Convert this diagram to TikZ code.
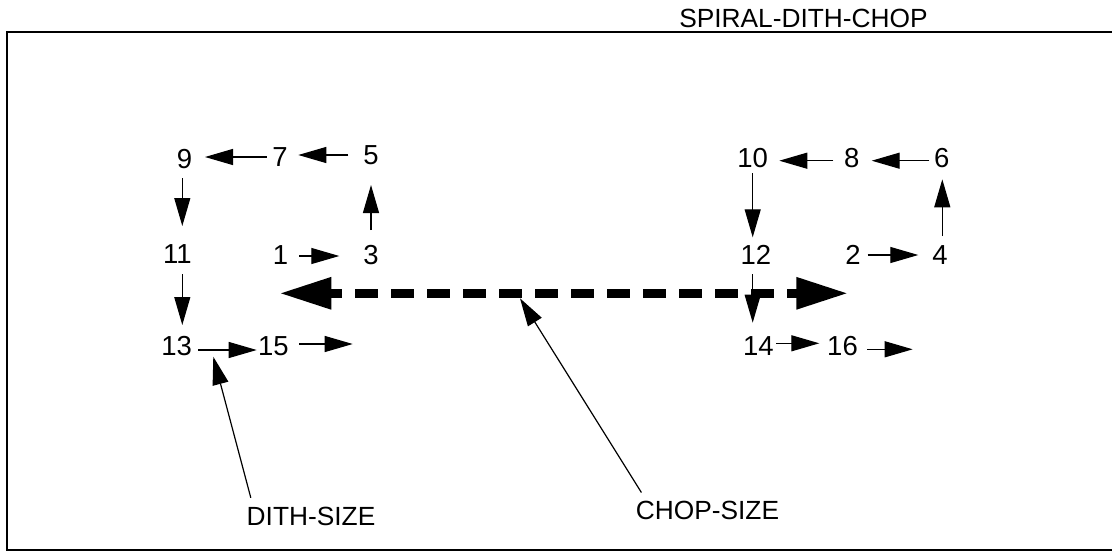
\documentclass[tikz,border=0pt]{standalone}
\usepackage{fontspec}
\setmainfont{Liberation Sans}
\usepackage{tikz}
\usetikzlibrary{arrows.meta}
\tikzset{
	step label/.style = {inner sep=0pt, font=\fontsize{27.5}{31}\selectfont},
	title label/.style = {inner sep=0pt, font=\fontsize{26.3}{30}\selectfont},
	size label/.style = {inner sep=8.7pt, font=\fontsize{26.3}{30}\selectfont},
	step arrow/.style = {line width=1.2pt, -{Triangle[length=28pt,width=16pt]}},
	chop arrow/.style = {line width=9pt, dash pattern=on 22.7pt off 13.3pt, dash phase=10pt,
		{Triangle[length=52pt,width=30pt]}-{Triangle[length=52pt,width=30pt]}},
	frame line/.style = {line width=1.2pt}
}

\begin{document}
\begin{tikzpicture}[x=1pt, y=-1pt]
		\useasboundingbox (0,0) rectangle (1112,552);
		\draw[frame line] (1112,32) -| (7,550) -- (1112,550);
		\node[title label] (title) at (803.5,18.5) {SPIRAL-DITH-CHOP};
	
		\node[step label] (n9) at (184.5,159.5) {9};
		\node[step label] (n7) at (280,157) {7};
		\node[step label] (n5) at (371,155) {5};
		\node[step label] (n11) at (177.5,254) {11};
		\node[step label] (n1) at (280.5,255) {1};
		\node[step label] (n3) at (371,255) {3};
		\node[step label] (n13) at (176.7,345.7) {13};
		\node[step label] (n15) at (273.3,345.7) {15};
		\coordinate (e15) at (352.7,344);
		\draw[step arrow, shorten <=13.3pt, shorten >=20.5pt] (n7.center) -- (n7.center -| n9.center);
		\draw[step arrow, shorten <=22.7pt, shorten >=18.3pt] (n5.center) -- (n5.center -| n7.center);
		\draw[step arrow, shorten <=18.8pt, shorten >=28pt] ([xshift=-2.2pt]n9.center) -- ([xshift=-2.2pt]n9.center |- n11.center);
		\draw[step arrow, shorten <=20pt, shorten >=20.7pt] ([xshift=4.8pt]n11.center) -- ([xshift=4.8pt]n11.center |- n13.center);
		\draw[step arrow, shorten <=25pt, shorten >=30pt] (n3.center) -- (n3.center |- n5.center);
		\draw[step arrow, shorten <=18.8pt, shorten >=31.7pt] ([yshift=-1pt]n1.center) -- ([yshift=-1pt]n1.center -| n3.center);
		\draw[step arrow, shorten <=21.6pt, shorten >=16.6pt] ([yshift=-4.3pt]n13.center) -- ([yshift=-4.3pt]n13.center -| n15.center);
		\draw[step arrow, shorten <=26pt] (n15.center |- e15) -- (e15);
	
		\node[step label] (n10) at (752.7,158) {10};
		\node[step label] (n8) at (851.7,158) {8};
		\node[step label] (n6) at (941.7,158) {6};
		\node[step label] (n12) at (755.8,255) {12};
		\node[step label] (n2) at (853,255) {2};
		\node[step label] (n4) at (940,255) {4};
		\node[step label] (n14) at (758.3,346) {14};
		\node[step label] (n16) at (842.5,346) {16};
		\coordinate (e16) at (912.7,349.3);
		\draw[step arrow, shorten <=18.4pt, shorten >=26.6pt] ([yshift=-2.7pt]n8.center) -- ([yshift=-2.7pt]n8.center -| n10.center);
		\draw[step arrow, shorten <=12.4pt, shorten >=20pt] ([yshift=-2.7pt]n6.center) -- ([yshift=-2.7pt]n6.center -| n8.center);
		\draw[step arrow, shorten <=15.3pt, shorten >=17.7pt] (n10.center) -- (n10.center |- n12.center);
		\draw[step arrow, shorten <=19pt, shorten >=23.3pt] ([xshift=-3.1pt]n12.center) -- ([xshift=-3.1pt]n12.center |- n14.center);
		\draw[step arrow, shorten <=19pt, shorten >=21.3pt] ([xshift=2.3pt]n4.center) -- ([xshift=2.3pt]n4.center |- n6.center);
		\draw[step arrow, shorten <=14.7pt, shorten >=21.7pt] (n2.center) -- (n2.center -| n4.center);
		\draw[step arrow, shorten <=17.7pt, shorten >=23.2pt] ([yshift=2.7pt]n14.center) -- ([yshift=2.7pt]n14.center -| n16.center);
		\draw[step arrow, shorten <=24.8pt] (n16.center |- e16) -- (e16);
	
		\coordinate (chopL) at (279.3,293.3);
		\coordinate (chopR) at (848.3,293.3);
		\draw[chop arrow] (chopL) -- (chopR);
	
		\node[size label] (dith) at (311,516) {DITH-SIZE};
		\coordinate (dithTip) at (213.3,356.7);
		\draw[step arrow] ([xshift=13pt]dith.north west) -- (dithTip);
		\node[size label] (chop) at (707.5,510.7) {CHOP-SIZE};
		\coordinate (chopTip) at (520,298.3);
		\draw[step arrow] ([xshift=14.4pt]chop.north west) -- (chopTip);
	\end{tikzpicture}
\end{document}
